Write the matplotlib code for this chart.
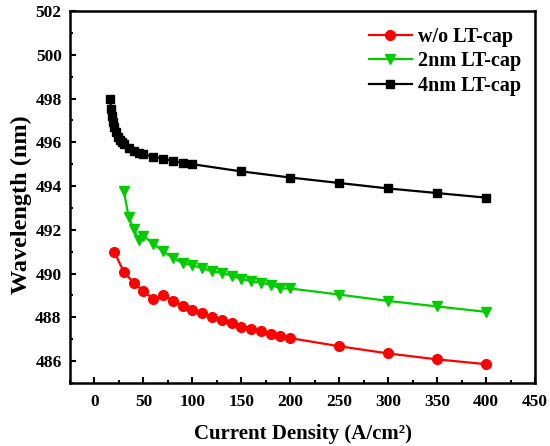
import matplotlib.pyplot as plt
from matplotlib.ticker import MultipleLocator

# === DATA ===
x_wo = [20, 30, 40, 50, 60, 70, 80, 90, 100, 110, 120, 130, 140, 150, 160, 170,
        180, 190, 200, 250, 300, 350, 400]
y_wo = [491.0, 490.08, 489.58, 489.19, 488.85, 489.0, 488.77, 488.51, 488.34, 488.18,
        488.01, 487.86, 487.72, 487.58, 487.48, 487.37, 487.25, 487.14, 487.05,
        486.68, 486.35, 486.08, 485.86]

x_2nm = [30, 35, 40, 45, 50, 60, 70, 80, 90, 100, 110, 120, 130, 140, 150, 160, 170,
         180, 190, 200, 250, 300, 350, 400]
y_2nm = [493.76, 492.57, 492.04, 491.55, 491.73, 491.36, 491.02, 490.72, 490.49, 490.37,
         490.26, 490.11, 490.03, 489.91, 489.76, 489.65, 489.58, 489.5, 489.32, 489.32,
         489.04, 488.75, 488.5, 488.25]

x_4nm = [16, 17, 18, 19, 20, 22, 24, 26, 28, 30, 35, 40, 45, 50, 60, 70, 80, 90, 100,
         150, 200, 250, 300, 350, 400]
y_4nm = [498.0, 497.5, 497.2, 496.95, 496.7, 496.45, 496.25, 496.1, 496.0, 495.9, 495.75,
         495.62, 495.52, 495.45, 495.35, 495.25, 495.15, 495.06, 495.0, 494.67, 494.39,
         494.14, 493.89, 493.68, 493.47]

labels = ["w/o LT-cap", "2nm LT-cap", "4nm LT-cap"]

plt.rcParams['font.family'] = ['Liberation Serif', 'DejaVu Serif']
plt.rcParams['font.weight'] = 'bold'

fig = plt.figure(figsize=(5.5, 4.46), dpi=100)
ax = fig.add_axes([70 / 550, 1 - 383 / 446, 465 / 550, 372 / 446])

ax.plot(x_wo, y_wo, color='#ff0000', marker='o', markersize=7, lw=1.6, label=labels[0])
ax.plot(x_2nm, y_2nm, color='#00cc00', marker='v', markersize=7.5, lw=1.6, label=labels[1])
ax.plot(x_4nm, y_4nm, color='black', marker='s', markersize=5.5, lw=1.6, label=labels[2])

ax.set_xlim(-25, 450)
ax.set_ylim(485, 502)
ax.xaxis.set_major_locator(MultipleLocator(50))
ax.xaxis.set_minor_locator(MultipleLocator(25))
ax.yaxis.set_major_locator(MultipleLocator(2))
ax.yaxis.set_minor_locator(MultipleLocator(1))
ax.tick_params(which='both', direction='in', width=1.5, labelsize=12.5)
ax.tick_params(which='major', length=4.5)
ax.tick_params(axis='x', which='major', pad=8)
ax.tick_params(axis='y', which='major', pad=6)
ax.tick_params(which='minor', length=2.5)
for s in ax.spines.values():
    s.set_linewidth(1.8)

ax.set_xlabel("Current Density (A/cm²)", fontsize=15, fontweight='bold', labelpad=10)
ax.set_ylabel("Wavelength (nm)", fontsize=17.5, fontweight='bold')
ax.yaxis.set_label_coords(-0.082, 0.48)

ax.legend(loc='upper right', frameon=False, handlelength=2.1,
          bbox_to_anchor=(1.0, 0.995), borderaxespad=0.3,
          labelspacing=0.22, handletextpad=0.3,
          prop={'weight': 'bold', 'size': 14.5})

fig.savefig("out.png", dpi=100)
